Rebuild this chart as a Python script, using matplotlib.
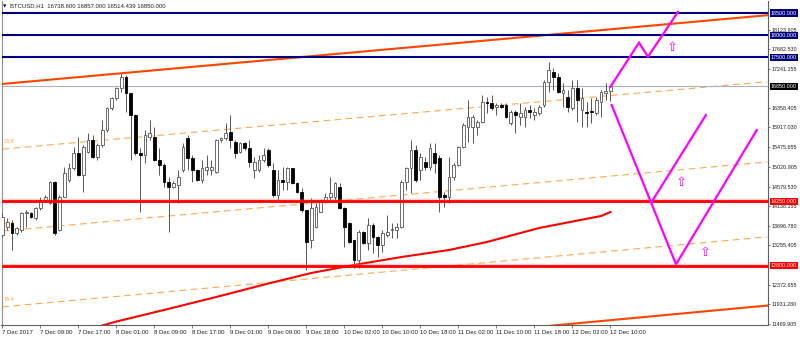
import matplotlib
matplotlib.use('Agg')
import matplotlib.pyplot as plt
import matplotlib.transforms as mtransforms

# ---------------- data ----------------
opens = [13492, 13680, 13755, 13530, 13605, 13981, 13981, 13868, 14094, 14282,
         14206, 14695, 13605, 14357, 14733, 14996, 15334, 14846, 15372, 15635,
         15259, 15522, 15861, 16350, 16575, 16801, 17064, 16688, 16199, 15334,
         15297, 15710, 15710, 15184, 15071, 14695, 14582, 14620, 14958, 15673,
         15222, 14958, 14733, 14958, 14958, 14921, 15635, 15673, 15823, 15598,
         15372, 15560, 15447, 14958, 14958, 15184, 15410, 14958, 14394, 14733,
         14695, 14996, 14658, 14470, 14056, 13379, 13680, 14018, 14244, 14357,
         14357, 14582, 14094, 13755, 13379, 12928, 13567, 13304, 13718, 13454,
         13266, 13492, 13605, 13605, 13680, 14695, 14996, 15410, 14958, 15146,
         15034, 15334, 15222, 14394, 14357, 14808, 15071, 15485, 15936, 15936,
         15936, 16049, 16500, 16462, 16387, 16425, 16425, 16011, 16274, 16162,
         16162, 16312, 16199, 16237, 16425, 16951, 17177, 17064, 16688, 16613,
         16349, 16801, 16312, 16274, 16274, 16237, 16500, 16688, 16738.6]
highs = [13981, 13868, 13830, 13680, 14018, 14056, 14018, 14131, 14357, 14394,
         14710, 14720, 14394, 15034, 15109, 15485, 15710, 15522, 15786, 15748,
         15560, 16086, 16387, 16613, 16838, 17139, 17100, 16700, 16230, 15447,
         15861, 16086, 15936, 15447, 15109, 14808, 14700, 14958, 15560, 15748,
         15297, 14990, 15184, 15297, 15184, 15660, 15710, 16011, 16199, 15635,
         15600, 15598, 15635, 15259, 15297, 15447, 15450, 15109, 14958, 15034,
         15034, 15010, 14680, 14545, 14060, 14319, 14206, 14300, 14432, 14808,
         14695, 14658, 14131, 13780, 13390, 13605, 13580, 13868, 13755, 13460,
         13605, 13943, 13755, 13755, 14733, 15034, 15635, 15522, 15334, 15259,
         15560, 15560, 15297, 14470, 15259, 15109, 15500, 16011, 16538, 16199,
         16086, 16650, 16613, 16650, 16462, 16462, 16462, 16312, 16312, 16462,
         16387, 16425, 16349, 16425, 16989, 17402, 17252, 17139, 16913, 16763,
         16989, 16989, 16801, 16500, 16575, 16613, 16763, 16913, 16857]
lows = [13454, 13605, 13154, 13492, 13567, 13680, 13868, 13830, 14056, 14244,
        14180, 13500, 13590, 14340, 14695, 14958, 14830, 14470, 15334, 15222,
        15184, 15485, 15823, 16312, 16538, 16726, 16274, 15184, 15300, 14018,
        15109, 15635, 15170, 14846, 14582, 13567, 14545, 14206, 14920, 14958,
        14695, 14700, 14658, 14846, 14846, 14880, 15598, 15635, 15447, 15222,
        15334, 15400, 15034, 14770, 14921, 15146, 15034, 14357, 14282, 14507,
        14507, 14640, 14430, 14018, 12702, 13191, 13642, 14000, 14206, 14282,
        14282, 14080, 13229, 13320, 12740, 12740, 13290, 13154, 13078, 13003,
        13116, 13454, 13417, 13417, 13642, 14507, 14432, 14695, 14733, 14958,
        14958, 14883, 14018, 14131, 14206, 14733, 15050, 15447, 15598, 15560,
        15748, 16011, 16237, 16312, 16199, 16350, 16124, 15974, 15786, 15974,
        15936, 16124, 16086, 16199, 16387, 16725, 16763, 16688, 16387, 16274,
        16312, 16049, 15936, 15936, 16011, 16199, 16162, 16537, 16514.439]
closes = [13906, 13793, 13530, 13642, 13981, 14018, 13906, 14094, 14282, 14357,
          14695, 13530, 14357, 14883, 14996, 15334, 14846, 15485, 15635, 15259,
          15522, 15861, 16350, 16575, 16801, 17064, 16688, 16199, 15334, 15297,
          15748, 15786, 15184, 15071, 14695, 14582, 14658, 14808, 15485, 15222,
          14958, 14733, 14996, 15034, 15034, 15635, 15673, 15786, 15635, 15334,
          15560, 15447, 15146, 15146, 15184, 15297, 15071, 14394, 14733, 14695,
          14996, 14658, 14470, 14056, 13342, 14094, 14131, 14282, 14357, 14432,
          14658, 14094, 13680, 13342, 12928, 13567, 13304, 13718, 13454, 13266,
          13530, 13567, 13620, 13680, 14695, 14996, 15410, 14733, 15259, 15034,
          15447, 15109, 14357, 14357, 14808, 15071, 15485, 15974, 16162, 16162,
          16049, 16500, 16462, 16350, 16425, 16387, 16162, 16274, 16199, 16237,
          16312, 16274, 16274, 16387, 16951, 17214, 17064, 16725, 16763, 16387,
          16801, 16537, 16575, 16252, 16270, 16537, 16725, 16748, 16850]

x_tick_bars = [0, 8, 16, 24, 32, 40, 48, 56, 64, 72, 80, 88, 96, 104, 112, 120, 128]
x_tick_labels = ['7 Dec 2017', '7 Dec 09:00', '7 Dec 17:00', '8 Dec 01:00', '8 Dec 09:00',
                 '8 Dec 17:00', '9 Dec 01:00', '9 Dec 09:00', '9 Dec 18:00', '10 Dec 02:00',
                 '10 Dec 10:00', '10 Dec 18:00', '11 Dec 02:00', '11 Dec 10:00',
                 '11 Dec 18:00', '12 Dec 02:00', '12 Dec 10:00']
y_tick_values = [11489.905, 11931.280, 12372.655, 13255.405, 13696.780, 14138.155,
                 14579.530, 15020.905, 15475.655, 15917.030, 16358.405, 17241.155,
                 17682.530, 18123.905]

# moving average (read at selected bars)
ma_bars = [21, 24, 34, 45, 56, 65, 74, 84, 94, 102, 113, 126, 128]
ma_values = [11450, 11540, 11800, 12093, 12398, 12634, 12815, 12995, 13153, 13334, 13650, 13920, 14011]

# horizontal levels
blue_levels = [18500, 18000, 17500]
red_levels = [14250, 12800]
last_price = 16850

# channel lines (bar, price endpoints)
channel_top_bars = [0, 161]
channel_top_prices = [16900, 18450]
channel_bot_bars = [100, 161]
channel_bot_prices = [11290, 11900]
fib_bars = [0, 161]
fib_prices = {'23.6': [15430, 16950], '50.0': [13580, 15140], '76.4': [11870, 13450]}

# forecast paths
up_path_bars = [128.0, 134.0, 135.9, 142.2]
up_path_prices = [16837, 17830, 17514, 18523]
v_path_bars = [128.25, 141.8, 158.8]
v_path_prices = [16424, 12830, 15860]
branch_bars = [136.7, 148.1]
branch_prices = [14243, 16199]
arrow_bars = [141, 143, 147.9]
arrow_prices = [17733, 14665, 13086]

title = 'BTCUSD,H1  16738.600 16857.000 16514.439 16850.000'

# ---------------- figure ----------------
W, H = 800, 338
fig = plt.figure(figsize=(W / 100, H / 100), dpi=100)
fig.patch.set_facecolor('white')
left_px, right_px, top_px, bot_px = 1.5, 768, 1, 325
ax = fig.add_axes([left_px / W, 1 - bot_px / H, (right_px - left_px) / W, (bot_px - top_px) / H])
ax.set_facecolor('white')
ax.set_xlim(-0.21, 161.16)
ax.set_ylim(11461, 18771)

FONT = ['Liberation Sans', 'DejaVu Sans']
FS = 4.3
FSY = 3.9

# fib dashed lines
for name, pr in fib_prices.items():
    ax.plot(fib_bars, pr, color='#FFA850', lw=0.8, dashes=(6, 4), zorder=2)
ax.text(0.2, 15560, '23.6', color='#FFA040', fontsize=4, family=FONT, zorder=2)
ax.text(0.2, 13700, '50.0', color='#FFA040', fontsize=4, family=FONT, zorder=1)
ax.text(0.2, 12000, '76.4', color='#FFA040', fontsize=4, family=FONT, zorder=2)

# last price line
ax.axhline(last_price, color='#A9B4BE', lw=0.8, zorder=2)

# candles
for i, (o, h, l, c) in enumerate(zip(opens, highs, lows, closes)):
    ax.vlines(i, l, h, color='#555555', lw=0.7, zorder=3)
    lo, hi = min(o, c), max(o, c)
    if hi - lo < 15:
        hi = lo + 15
    if c >= o:
        ax.bar(i, hi - lo, bottom=lo, width=0.6, facecolor='white', edgecolor='#555555',
               linewidth=0.6, zorder=4)
    else:
        ax.bar(i, hi - lo, bottom=lo, width=0.6, facecolor='black', edgecolor='black',
               linewidth=0.6, zorder=4)

# channel
ax.plot(channel_top_bars, channel_top_prices, color='#FF4500', lw=1.5, zorder=5)
ax.plot(channel_bot_bars, channel_bot_prices, color='#FF4500', lw=1.5, zorder=5)

# moving average
ax.plot(ma_bars, ma_values, color='#FF0000', lw=1.5, zorder=5)

# horizontal levels
for lv in blue_levels:
    ax.axhline(lv, color='#00007F', lw=1.5, zorder=6)
for lv in red_levels:
    ax.axhline(lv, color='#FF0000', lw=2.0, zorder=6)
    ax.axhline(lv, color='#FF8080', lw=3.2, alpha=0.35, zorder=5)

# forecast
ax.plot(up_path_bars, up_path_prices, color='#FF00FF', lw=1.6, zorder=7, solid_joinstyle='miter')
ax.plot(v_path_bars, v_path_prices, color='#FF00FF', lw=1.6, zorder=7, solid_joinstyle='miter')
ax.plot(branch_bars, branch_prices, color='#FF00FF', lw=1.6, zorder=7)
for b, p in zip(arrow_bars, arrow_prices):
    ax.text(b, p, '\u21e7', color='#FF00FF', fontsize=9.5, ha='center', va='center',
            family=['DejaVu Sans'], zorder=8)

# axes styling
for sp in ['top', 'left']:
    ax.spines[sp].set_visible(False)
for sp in ['right', 'bottom']:
    ax.spines[sp].set_color('#606060')
    ax.spines[sp].set_linewidth(0.8)
ax.plot([0, 0], [0, 1], transform=ax.transAxes, color='#909090', lw=0.8, clip_on=False)

ax.yaxis.tick_right()
ax.set_yticks(y_tick_values)
ax.set_yticklabels(['%.3f' % v for v in y_tick_values])
ax.tick_params(axis='y', direction='out', length=1.6, width=0.6, color='#606060',
               labelsize=FSY, pad=1.0, labelcolor='#202020')
ax.set_xticks(x_tick_bars)
ax.set_xticklabels(x_tick_labels)
ax.tick_params(axis='x', direction='out', length=2.2, width=0.6, color='#606060',
               labelsize=FS, pad=1.2, labelcolor='#202020')
for lab in ax.get_xticklabels():
    lab.set_horizontalalignment('left')
    lab.set_family(FONT)
for lab in ax.get_yticklabels():
    lab.set_family(FONT)

trans = mtransforms.blended_transform_factory(ax.transAxes, ax.transData)
box_specs = [(18500, '#00007F'), (18000, '#00007F'), (17500, '#00007F'),
             (last_price, '#000000'), (14250, '#FF0000'), (12800, '#FF0000')]
for val, col in box_specs:
    ax.text(1.0035, val, '%.3f' % val, transform=trans, ha='left', va='center',
            fontsize=FSY, color='white', family=FONT, zorder=10, clip_on=False,
            bbox=dict(boxstyle='square,pad=0.2', fc=col, ec='none'))

fig.text(3 / W, 1 - 6 / H, '\u25bc', fontsize=3.2, va='center', ha='left', family=['DejaVu Sans'])
fig.text(10 / W, 1 - 6 / H, title, fontsize=FS, va='center', ha='left', family=FONT, color='#202020')

fig.savefig('out.png', dpi=100, facecolor='white')
